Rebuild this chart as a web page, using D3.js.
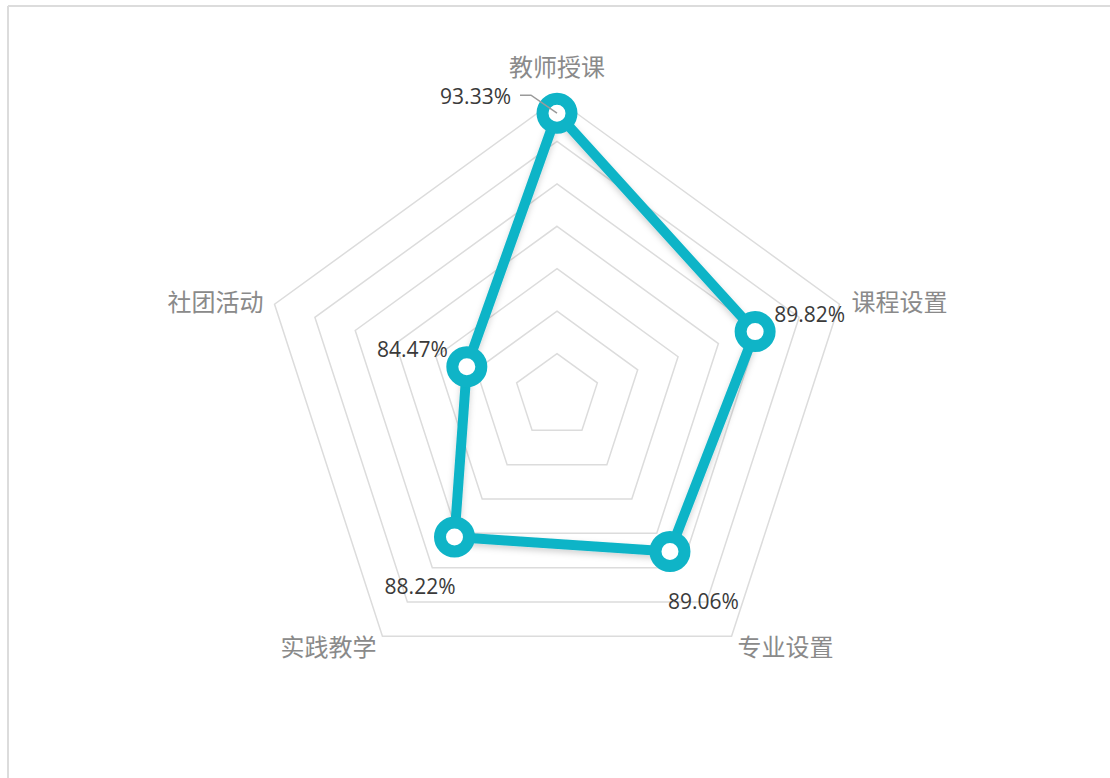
<!DOCTYPE html>
<html>
<head>
<meta charset="utf-8">
<script src="https://cdn.jsdelivr.net/npm/d3@7/dist/d3.min.js"></script>
<style>
  html, body { margin: 0; padding: 0; background: #fff; }
  svg { display: block; }
</style>
</head>
<body>
<svg id="chart" width="1110" height="778"></svg>
<script>
// ---- data ----
const categories = ["教师授课", "课程设置", "专业设置", "实践教学", "社团活动"];
const values = [93.33, 89.82, 89.06, 88.22, 84.47];
const valueLabels = ["93.33%", "89.82%", "89.06%", "88.22%", "84.47%"];
const axisMin = 80, axisMax = 94, splitNumber = 7;

// ---- layout (not data) ----
const W = 1110, H = 778;
const cx = 557, cy = 396, R = 297;
const lineColor = "#0fb4c7";
// label placement relative to point: [dx, dy, anchor]
const labelPlacement = [[-46, -17, "end"], [19, -18, "start"], [-2, 50, "start"], [1, 49, "end"], [-19, -18, "end"]];
// axis name placement relative to outer vertex: [dx, dy, anchor]
const namePlacement = [[0, -34, "middle"], [12, -4, "start"], [6, 9, "start"], [-6, 9, "end"], [-11, -4, "end"]];

const svg = d3.select("#chart");

// frame border (top + left)
svg.append("line").attr("x1", 8).attr("y1", 6).attr("x2", W).attr("y2", 6)
  .attr("stroke", "#dcdcdc").attr("stroke-width", 2);
svg.append("line").attr("x1", 8).attr("y1", 6).attr("x2", 8).attr("y2", H)
  .attr("stroke", "#dcdcdc").attr("stroke-width", 2);

const defs = svg.append("defs");
const f = defs.append("filter").attr("id", "shadow").attr("x", "-20%").attr("y", "-20%").attr("width", "140%").attr("height", "140%");
f.append("feDropShadow").attr("dx", 0).attr("dy", 3).attr("stdDeviation", 3)
  .attr("flood-color", "#000").attr("flood-opacity", 0.18);

const r = d3.scaleLinear().domain([axisMin, axisMax]).range([0, R]);
const n = categories.length;
const angle = i => (i * 2 * Math.PI) / n; // clockwise from top
const pt = (i, rad) => [cx + rad * Math.sin(angle(i)), cy - rad * Math.cos(angle(i))];

// grid rings
const ringVals = d3.range(1, splitNumber + 1).map(k => axisMin + k * (axisMax - axisMin) / splitNumber);
const g = svg.append("g");
g.selectAll("path.ring").data(ringVals).join("path")
  .attr("class", "ring")
  .attr("d", v => d3.line()(categories.map((c, i) => pt(i, r(v)))) + "Z")
  .attr("fill", "none").attr("stroke", "#dcdcdc").attr("stroke-width", 1.5);

// axis names
svg.selectAll("text.name").data(categories).join("text")
  .attr("class", "name")
  .attr("x", (d, i) => pt(i, R)[0] + namePlacement[i][0])
  .attr("y", (d, i) => pt(i, R)[1] + namePlacement[i][1])
  .attr("text-anchor", (d, i) => namePlacement[i][2])
  .attr("dominant-baseline", "central")
  .attr("font-family", "'Noto Sans CJK SC', sans-serif")
  .attr("font-size", 24)
  .attr("fill", "#8a8a8a")
  .text(d => d);

// data polygon
const pts = values.map((v, i) => pt(i, r(v)));
svg.append("path")
  .attr("d", d3.line()(pts) + "Z")
  .attr("fill", "none").attr("stroke", lineColor).attr("stroke-width", 10)
  .attr("stroke-linejoin", "round")
  .attr("filter", "url(#shadow)");

// markers
svg.selectAll("circle.mk").data(pts).join("circle")
  .attr("class", "mk")
  .attr("cx", d => d[0]).attr("cy", d => d[1])
  .attr("r", 14.5)
  .attr("fill", "#fff").attr("stroke", lineColor).attr("stroke-width", 12);

// leader line for the top label
const p0 = pts[0];
svg.append("path")
  .attr("d", d3.line()([[p0[0] - 37, p0[1] - 18], [p0[0] - 26, p0[1] - 18], [p0[0], p0[1]]]))
  .attr("fill", "none").attr("stroke", "#9a9a9a").attr("stroke-width", 1.5);

// value labels
svg.selectAll("text.val").data(valueLabels).join("text")
  .attr("class", "val")
  .attr("x", (d, i) => pts[i][0] + labelPlacement[i][0])
  .attr("y", (d, i) => pts[i][1] + labelPlacement[i][1])
  .attr("text-anchor", (d, i) => labelPlacement[i][2])
  .attr("dominant-baseline", "central")
  .attr("font-family", "'Open Sans', sans-serif")
  .attr("font-size", 21)
  .attr("fill", "#3a3a3a")
  .text(d => d);
</script>
</body>
</html>
